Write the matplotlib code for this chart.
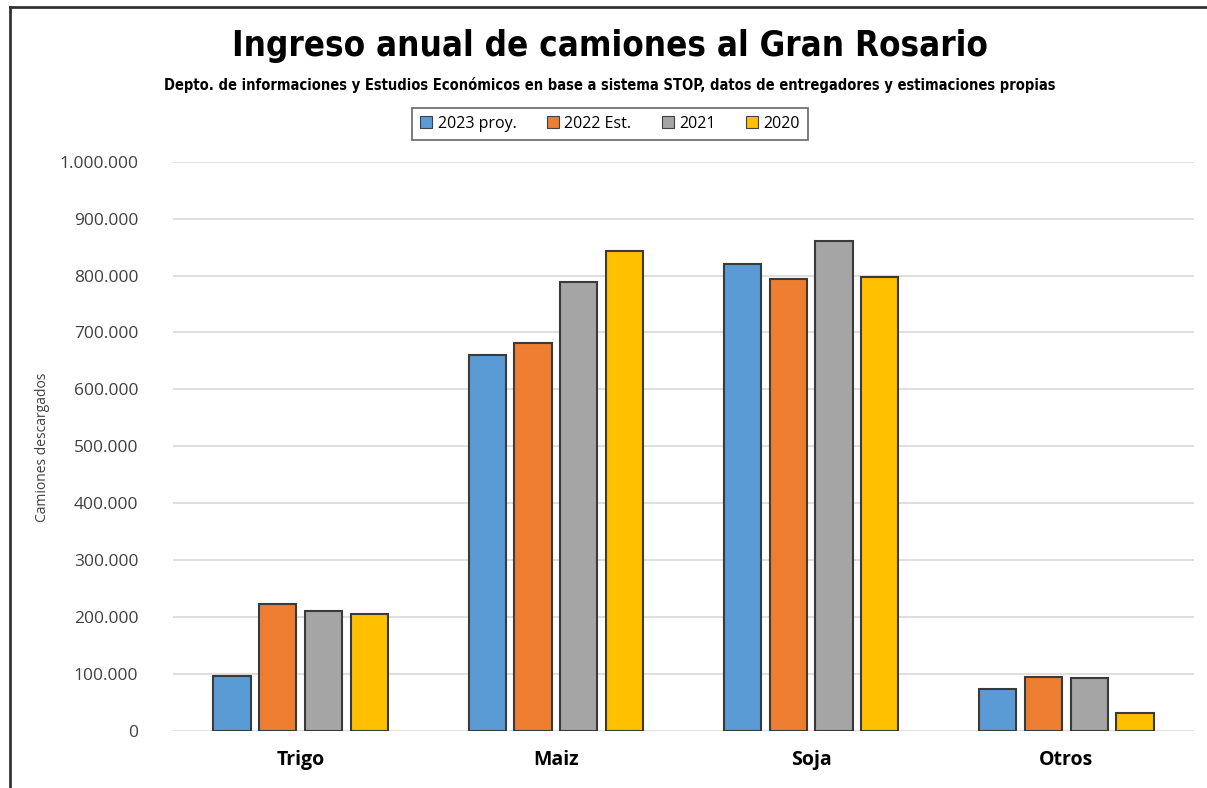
import matplotlib
matplotlib.use("Agg")
import matplotlib.pyplot as plt
from matplotlib.ticker import FuncFormatter, MultipleLocator
from matplotlib.lines import Line2D
import numpy as np

categories = ["Trigo", "Maiz", "Soja", "Otros"]
series_names = ["2023 proy.", "2022 Est.", "2021", "2020"]
v2023 = [96000, 660000, 820000, 73000]
v2022 = [223000, 681000, 794000, 95000]
v2021 = [210000, 788000, 861000, 93000]
v2020 = [206000, 843000, 798000, 31000]
series_values = [v2023, v2022, v2021, v2020]
colors = ["#5B9BD5", "#ED7D31", "#A5A5A5", "#FFC000"]

title = "Ingreso anual de camiones al Gran Rosario"
subtitle = ("Depto. de informaciones y Estudios Económicos en base a sistema STOP, "
            "datos de entregadores y estimaciones propias")
ylabel = "Camiones descargados"

fig = plt.figure(figsize=(12.07, 7.88), dpi=100)
ax = fig.add_axes([173/1207, 1-731/788, (1194-173)/1207, (731-161.7)/788])

x = np.arange(len(categories))
w = 0.146
step = 0.179
for i, (vals, c) in enumerate(zip(series_values, colors)):
    ax.bar(x + (i - 1.5) * step, vals, width=w, color=c, edgecolor="#3a3a3a",
           linewidth=1.5, zorder=3, label=series_names[i])

ax.set_xlim(-0.5, len(categories) - 0.5)
ax.set_ylim(0, 1000000)
ax.yaxis.set_major_locator(MultipleLocator(100000))
ax.yaxis.set_major_formatter(FuncFormatter(lambda v, p: f"{int(round(v)):,}".replace(",", ".")))
ax.grid(axis="y", color="#D9D9D9", linewidth=1.2, zorder=0)
for s in ax.spines.values():
    s.set_visible(False)
ax.tick_params(axis="both", length=0)
ax.tick_params(axis="y", labelsize=12.5, colors="#404040", pad=25)
for lab in ax.get_yticklabels():
    lab.set_fontfamily("Open Sans")
ax.set_xticks(x)
ax.set_xticklabels(categories, fontsize=14, fontweight="bold", family="Open Sans")
ax.tick_params(axis="x", pad=14)

fig.text(43/1207, 1-447/788, ylabel, rotation=90, ha="center", va="center",
         fontsize=10, color="#404040", family="Open Sans")

fig.text(610/1207, 1-46/788, title, ha="center", va="center", fontsize=25,
         fontweight="bold", family="DejaVu Sans", fontstretch="condensed")
fig.text(610/1207, 1-85/788, subtitle, ha="center", va="center", fontsize=10.5,
         fontweight="bold", family="DejaVu Sans", fontstretch="condensed")

handles = [Line2D([0], [0], marker="s", color="none", markerfacecolor=c,
                  markeredgecolor="#404040", markersize=8, markeredgewidth=0.8)
           for c in colors]
leg = fig.legend(handles, series_names, loc="center", bbox_to_anchor=(610/1207, 1-124/788),
                 ncol=4, frameon=True, fancybox=False, edgecolor="#404040",
                 handlelength=0.8, handletextpad=0.3, columnspacing=1.9,
                 borderpad=0.5, prop={"family": "Open Sans", "size": 11.5})
leg.get_frame().set_linewidth(1.2)

# figure frame lines (top and left)
fig.add_artist(Line2D([10/1207, 1], [1-7/788, 1-7/788], color="#333333", linewidth=2,
                      transform=fig.transFigure))
fig.add_artist(Line2D([10/1207, 10/1207], [0, 1-7/788], color="#333333", linewidth=2,
                      transform=fig.transFigure))

fig.savefig("out.png", dpi=100)
